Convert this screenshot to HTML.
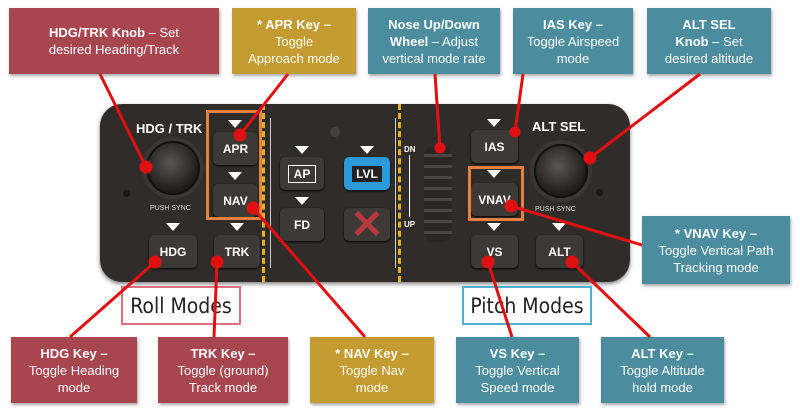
<!DOCTYPE html>
<html><head><style>
body{margin:0;width:800px;height:408px;background:#fff;position:relative;overflow:hidden;font-family:"Liberation Sans",sans-serif}
.b{position:absolute;color:#fff;font-size:13px;line-height:17px;text-align:center;display:flex;align-items:center;justify-content:center;box-shadow:1px 2px 3px rgba(0,0,0,.35)}
.r{background:#a8464f}.g{background:#c49b30}.t{background:#4b8d9e}
.b b{font-weight:bold}
.panel{position:absolute;left:100px;top:104px;width:530px;height:178px;background:#302c2a;border-radius:22px;box-shadow:0 2px 4px rgba(0,0,0,.5)}
.k{position:absolute;background:#3d3937;border-radius:5px;color:#fff;font-size:12px;font-weight:bold;display:flex;align-items:center;justify-content:center;box-shadow:0 1px 2px #000}
.tri{position:absolute;width:0;height:0;border-left:7px solid transparent;border-right:7px solid transparent;border-top:8px solid #fff}
.lbl{position:absolute;color:#fff;font-weight:bold;font-size:13px}
.ps{position:absolute;color:#ddd;font-size:7px}
.knob{position:absolute;border-radius:50%;background:radial-gradient(circle at 45% 40%,#5a5654,#1e1c1b 70%);border:2px solid #111;box-shadow:0 0 0 4px #3a3634}
.mode{position:absolute;font-family:"DejaVu Sans Condensed","Liberation Sans",sans-serif;font-size:21px;color:#222;display:flex;align-items:center;justify-content:center;background:#fff}
</style></head><body>
<div class="b r" style="left:9px;top:8px;width:210px;height:66px"><div><b>HDG/TRK Knob</b> – Set<br>desired Heading/Track</div></div>
<div class="b g" style="left:232px;top:8px;width:124px;height:66px"><div><b>* APR Key –</b><br>Toggle<br>Approach mode</div></div>
<div class="b t" style="left:368px;top:8px;width:132px;height:66px"><div><b>Nose Up/Down<br>Wheel</b> – Adjust<br>vertical mode rate</div></div>
<div class="b t" style="left:513px;top:8px;width:120px;height:66px"><div><b>IAS Key –</b><br>Toggle Airspeed<br>mode</div></div>
<div class="b t" style="left:647px;top:8px;width:124px;height:66px"><div><b>ALT SEL<br>Knob</b> – Set<br>desired altitude</div></div>
<div class="b t" style="left:642px;top:216px;width:148px;height:68px"><div><b>* VNAV Key –</b><br>Toggle Vertical Path<br>Tracking mode</div></div>
<div class="b r" style="left:11px;top:337px;width:126px;height:66px"><div><b>HDG Key –</b><br>Toggle Heading<br>mode</div></div>
<div class="b r" style="left:158px;top:337px;width:130px;height:66px"><div><b>TRK Key –</b><br>Toggle (ground)<br>Track mode</div></div>
<div class="b g" style="left:310px;top:337px;width:124px;height:66px"><div><b>* NAV Key –</b><br>Toggle Nav<br>mode</div></div>
<div class="b t" style="left:456px;top:337px;width:123px;height:66px"><div><b>VS Key –</b><br>Toggle Vertical<br>Speed mode</div></div>
<div class="b t" style="left:601px;top:337px;width:123px;height:66px"><div><b>ALT Key –</b><br>Toggle Altitude<br>hold mode</div></div>

<div class="panel"></div>
<div class="lbl" style="left:136px;top:121px">HDG / TRK</div>
<div class="lbl" style="left:532px;top:119px">ALT SEL</div>
<div class="knob" style="left:146px;top:141px;width:50px;height:50px"></div>
<div class="knob" style="left:534px;top:144px;width:50px;height:50px"></div>
<div class="ps" style="left:150px;top:205px">PUSH SYNC</div>
<div class="ps" style="left:535px;top:206px">PUSH SYNC</div>
<div style="position:absolute;left:123px;top:190px;width:7px;height:7px;border-radius:50%;background:#1a1817"></div>
<div style="position:absolute;left:596px;top:189px;width:7px;height:7px;border-radius:50%;background:#1a1817"></div>
<div style="position:absolute;left:330px;top:127px;width:10px;height:10px;border-radius:50%;background:#454140"></div>
<div style="position:absolute;left:262px;top:104px;height:178px;border-left:3px dashed #e8b020"></div>
<div style="position:absolute;left:270px;top:118px;height:150px;border-left:1px solid #ccc"></div>
<div style="position:absolute;left:398px;top:104px;height:178px;border-left:3px dashed #e8b020"></div>
<div style="position:absolute;left:395px;top:118px;height:150px;border-left:1px solid #ccc"></div>
<div style="position:absolute;left:404px;top:145px;color:#fff;font-size:8px;font-weight:bold;line-height:10px">DN<br><span style="display:inline-block;height:62px;border-left:1px solid #fff;margin-left:5px"></span><br>UP</div>
<div style="position:absolute;left:424px;top:146px;width:28px;height:96px;border-radius:10px;background:repeating-linear-gradient(#2a2726 0 8px,#4a4644 8px 11px)"></div>
<div class="tri" style="left:228px;top:120px"></div><div class="k" style="left:213px;top:132px;width:45px;height:33px">APR</div>
<div class="tri" style="left:228px;top:172px"></div><div class="k" style="left:213px;top:184px;width:45px;height:33px">NAV</div>
<div style="position:absolute;left:206px;top:110px;width:50px;height:104px;border:3px solid #e88040"></div>
<div class="tri" style="left:166px;top:223px"></div><div class="k" style="left:149px;top:235px;width:48px;height:33px">HDG</div>
<div class="tri" style="left:230px;top:223px"></div><div class="k" style="left:214px;top:235px;width:46px;height:33px">TRK</div>
<div class="tri" style="left:295px;top:146px"></div><div class="k" style="left:280px;top:157px;width:44px;height:33px"><span style="border:1.5px solid #fff;padding:1px 5px">AP</span></div>
<div class="tri" style="left:295px;top:197px"></div><div class="k" style="left:280px;top:208px;width:44px;height:33px">FD</div>
<div class="tri" style="left:360px;top:146px"></div><div class="k" style="left:344px;top:157px;width:46px;height:33px;background:#2a9ad8"><span style="background:#222;padding:1px 4px">LVL</span></div>
<div class="k" style="left:344px;top:208px;width:46px;height:33px;color:#b83a40;font-size:40px;font-weight:bold">✕</div>
<div class="tri" style="left:487px;top:119px"></div><div class="k" style="left:471px;top:130px;width:47px;height:33px">IAS</div>
<div class="tri" style="left:487px;top:170px"></div><div class="k" style="left:471px;top:183px;width:47px;height:33px">VNAV</div>
<div style="position:absolute;left:468px;top:166px;width:50px;height:49px;border:3px solid #e88040"></div>
<div class="tri" style="left:487px;top:223px"></div><div class="k" style="left:471px;top:235px;width:47px;height:33px">VS</div>
<div class="tri" style="left:552px;top:223px"></div><div class="k" style="left:536px;top:235px;width:47px;height:33px">ALT</div>

<div class="mode" style="left:121px;top:286px;width:116px;height:35px;border:2px solid #e07080">Roll Modes</div>
<div class="mode" style="left:462px;top:286px;width:126px;height:35px;border:2px solid #50b0d0">Pitch Modes</div>

<svg width="800" height="408" style="position:absolute;left:0;top:0" stroke="#e01010" stroke-width="3" fill="#e01010">
<line x1="100" y1="74" x2="146" y2="167"/><circle cx="146" cy="167" r="5"/>
<line x1="288" y1="74" x2="240" y2="135"/><circle cx="240" cy="135" r="5"/>
<line x1="435" y1="74" x2="440" y2="148"/><circle cx="440" cy="148" r="4"/>
<line x1="523" y1="74" x2="515" y2="132"/><circle cx="515" cy="132" r="4"/>
<line x1="700" y1="74" x2="590" y2="158"/><circle cx="590" cy="158" r="5"/>
<line x1="642" y1="245" x2="511" y2="206"/><circle cx="511" cy="206" r="5"/>
<line x1="70" y1="337" x2="155" y2="262"/><circle cx="155" cy="262" r="5"/>
<line x1="214" y1="337" x2="217" y2="262"/><circle cx="217" cy="262" r="5"/>
<line x1="365" y1="337" x2="253" y2="208"/><circle cx="253" cy="208" r="5"/>
<line x1="512" y1="337" x2="488" y2="262"/><circle cx="488" cy="262" r="5"/>
<line x1="650" y1="337" x2="572" y2="262"/><circle cx="572" cy="262" r="5"/>
</svg>
</body></html>
